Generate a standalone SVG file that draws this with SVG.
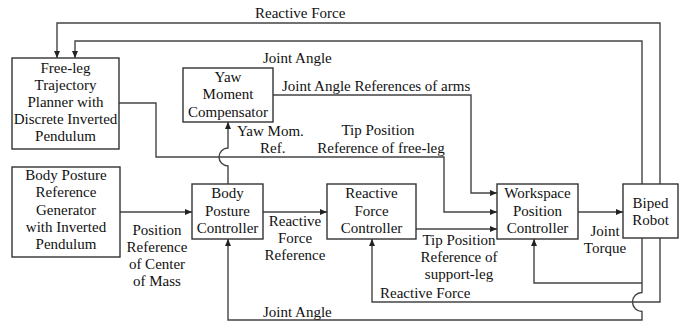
<svg xmlns="http://www.w3.org/2000/svg" width="685" height="322" viewBox="0 0 685 322">
<defs>
<marker id="ah" markerUnits="userSpaceOnUse" markerWidth="8" markerHeight="6" refX="7" refY="3" orient="auto">
<path d="M0,0 L7,3 L0,6 Z" fill="#222"/>
</marker>
<style>
rect.box{fill:#fff;stroke:#333;stroke-width:1.4}
.c path{fill:none;stroke:#444;stroke-width:1.4}
.c path.a{marker-end:url(#ah)}
text{font-family:"Liberation Serif","Times New Roman",serif;font-size:15px;fill:#111}
.m{text-anchor:middle}
</style>
</defs>
<rect width="685" height="322" fill="#fff"/>
<g class="c" id="connectors">
<path class="a" d="M660,184 V23 H57 V58"/>
<path class="a" d="M642,184 V41 H75 V58"/>
<path class="a" d="M119,103 H156 V157 H444 V212 H497"/>
<path class="a" d="M273,95 H471 V193 H497"/>
<path class="a" d="M228,184 V166 A9,9 0 0 1 228,148 V122"/>
<path class="a" d="M120,212 H192"/>
<path class="a" d="M263,212 H327"/>
<path class="a" d="M416,229 H497"/>
<path class="a" d="M578,212 H623"/>
<path class="a" d="M642,283 H534 V239"/>
<path class="a" d="M660,238 V302 H372 V239"/>
<path class="a" d="M642,238 V292.5 A9.5,9.5 0 0 0 642,311.5 V320 H228 V239"/>
</g>
<g id="freeleg">
<rect class="box" x="12" y="58" width="107" height="91"/>
<text class="m" x="65.5" y="73">Free-leg</text>
<text class="m" x="65.5" y="90">Trajectory</text>
<text class="m" x="65.5" y="107">Planner with</text>
<text class="m" x="65.5" y="124">Discrete Inverted</text>
<text class="m" x="65.5" y="141">Pendulum</text>
</g>
<g id="yaw">
<rect class="box" x="183" y="68" width="90" height="54"/>
<text class="m" x="228" y="82">Yaw</text>
<text class="m" x="228" y="99">Moment</text>
<text class="m" x="228" y="117">Compensator</text>
</g>
<g id="bprg">
<rect class="box" x="12" y="167" width="108" height="90"/>
<text class="m" x="66" y="180">Body Posture</text>
<text class="m" x="66" y="197">Reference</text>
<text class="m" x="66" y="215">Generator</text>
<text class="m" x="66" y="232">with Inverted</text>
<text class="m" x="66" y="249">Pendulum</text>
</g>
<g id="bpc">
<rect class="box" x="192" y="184" width="71" height="55"/>
<text class="m" x="227.5" y="198">Body</text>
<text class="m" x="227.5" y="216">Posture</text>
<text class="m" x="227.5" y="233">Controller</text>
</g>
<g id="rfc">
<rect class="box" x="327" y="184" width="89" height="55"/>
<text class="m" x="371.5" y="198">Reactive</text>
<text class="m" x="371.5" y="216">Force</text>
<text class="m" x="371.5" y="233">Controller</text>
</g>
<g id="wpc">
<rect class="box" x="497" y="184" width="81" height="55"/>
<text class="m" x="537.5" y="198">Workspace</text>
<text class="m" x="537.5" y="216">Position</text>
<text class="m" x="537.5" y="233">Controller</text>
</g>
<g id="biped">
<rect class="box" x="623" y="184" width="55" height="54"/>
<text class="m" x="650.5" y="208">Biped</text>
<text class="m" x="650.5" y="225">Robot</text>
</g>
<g id="labels">
<text x="255" y="18">Reactive Force</text>
<text x="263" y="63">Joint Angle</text>
<text x="282" y="91">Joint Angle References of arms</text>
<text x="237" y="136">Yaw Mom.</text>
<text x="260" y="153">Ref.</text>
<text class="m" x="378" y="135">Tip Position</text>
<text class="m" x="381" y="153">Reference of free-leg</text>
<text class="m" x="157" y="235">Position</text>
<text class="m" x="157" y="252">Reference</text>
<text class="m" x="157" y="269">of Center</text>
<text class="m" x="157" y="286">of Mass</text>
<text class="m" x="295" y="226">Reactive</text>
<text class="m" x="295" y="243">Force</text>
<text class="m" x="295" y="260">Reference</text>
<text class="m" x="459" y="245">Tip Position</text>
<text class="m" x="459" y="262">Reference of</text>
<text class="m" x="459" y="279">support-leg</text>
<text x="380" y="298">Reactive Force</text>
<text class="m" x="605" y="236">Joint</text>
<text class="m" x="605" y="253">Torque</text>
<text x="263" y="317">Joint Angle</text>
</g>
</svg>
